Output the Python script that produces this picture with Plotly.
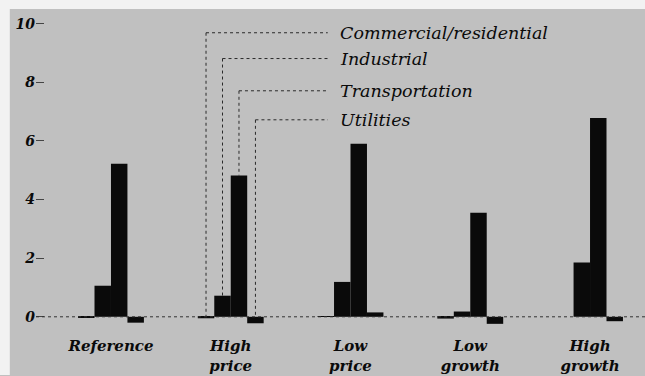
import plotly.graph_objects as go

# Scenario groups along the x axis
scenarios = ["Reference", "High<br>price", "Low<br>price", "Low<br>growth", "High<br>growth"]
sectors = ["Commercial/residential", "Industrial", "Transportation", "Utilities"]

# Values per sector, one entry per scenario
commercial = [-0.03, -0.05, 0.02, -0.06, 0.0]
industrial = [1.06, 0.72, 1.19, 0.18, 1.85]
transportation = [5.22, 4.82, 5.9, 3.55, 6.78]
utilities = [-0.2, -0.22, 0.15, -0.24, -0.15]

y_ticks = [0, 2, 4, 6, 8, 10]

series = [commercial, industrial, transportation, utilities]
x_pos = list(range(len(scenarios)))

BARGAP = 0.45
bar_w = (1 - BARGAP) / len(sectors)

SERIF = "DejaVu Serif"
INK = "#0a0a0a"
PAGE = "#c0c0c0"
EDGE = "#f2f2f2"

fig = go.Figure()
for name, vals in zip(sectors, series):
    fig.add_trace(go.Bar(
        x=x_pos, y=vals, name=name,
        marker=dict(color=INK, line=dict(width=0)),
        showlegend=False,
    ))

# Dotted baseline at zero
shapes = [dict(type="line", xref="paper", yref="y", x0=0, x1=1, y0=0, y1=0,
               line=dict(color="#333", width=1, dash="dot"), layer="above")]

# Leader lines from the sector labels down to the "High price" group
label_y = [9.69, 8.81, 7.71, 6.72]
group = 1
seg_end_x = 1.81
annotations = []
for i, (name, ly) in enumerate(zip(sectors, label_y)):
    bx = group + (i - 1.5) * bar_w
    v = series[i][group]
    end_y = max(v, 0)
    shapes.append(dict(type="line", xref="x", yref="y", x0=bx, x1=seg_end_x, y0=ly, y1=ly,
                       line=dict(color="#2a2a2a", width=1, dash="dot")))
    shapes.append(dict(type="line", xref="x", yref="y", x0=bx, x1=bx, y0=ly, y1=end_y,
                       line=dict(color="#2a2a2a", width=1, dash="dot")))
    annotations.append(dict(x=1.895, y=ly, xref="x", yref="y", text=name, showarrow=False,
                            xanchor="left", yanchor="middle",
                            font=dict(family=SERIF, size=17.5, color=INK, style="italic")))

# Pale page margin along the top and left edges
shapes.insert(0, dict(type="rect", xref="paper", yref="paper",
                      x0=-0.06, x1=1.0, y0=1.0, y1=1.03,
                      fillcolor=EDGE, line=dict(width=0), layer="below"))
shapes.insert(0, dict(type="rect", xref="paper", yref="paper",
                      x0=-0.06, x1=-0.043, y0=-0.14, y1=1.03,
                      fillcolor=EDGE, line=dict(width=0), layer="below"))

fig.update_layout(
    width=645, height=376,
    margin=dict(l=36, r=0, t=9, b=46),
    paper_bgcolor=PAGE,
    plot_bgcolor="rgba(0,0,0,0)",
    barmode="group", bargap=BARGAP, bargroupgap=0,
    shapes=shapes, annotations=annotations,
    xaxis=dict(range=[-0.626, 4.459], tickvals=x_pos, ticktext=scenarios,
               showgrid=False, zeroline=False, showline=False, ticks="",
               ticklabelstandoff=5,
               tickfont=dict(family=SERIF, size=15, color=INK, style="italic", weight="bold")),
    yaxis=dict(range=[-0.45, 10.5], tickvals=y_ticks, showgrid=False, zeroline=False,
               showline=False, ticks="inside", ticklen=8, tickcolor="#444", tickwidth=1,
               tickfont=dict(family=SERIF, size=14, color=INK, style="italic", weight="bold")),
)

# Keep the page free of scrollbars so the figure fills the window
page_script = (
    "document.documentElement.style.overflow='hidden';"
    "document.body.style.margin='0';"
    "document.body.style.overflow='hidden';"
)

fig.write_html("out.html", post_script=page_script)
